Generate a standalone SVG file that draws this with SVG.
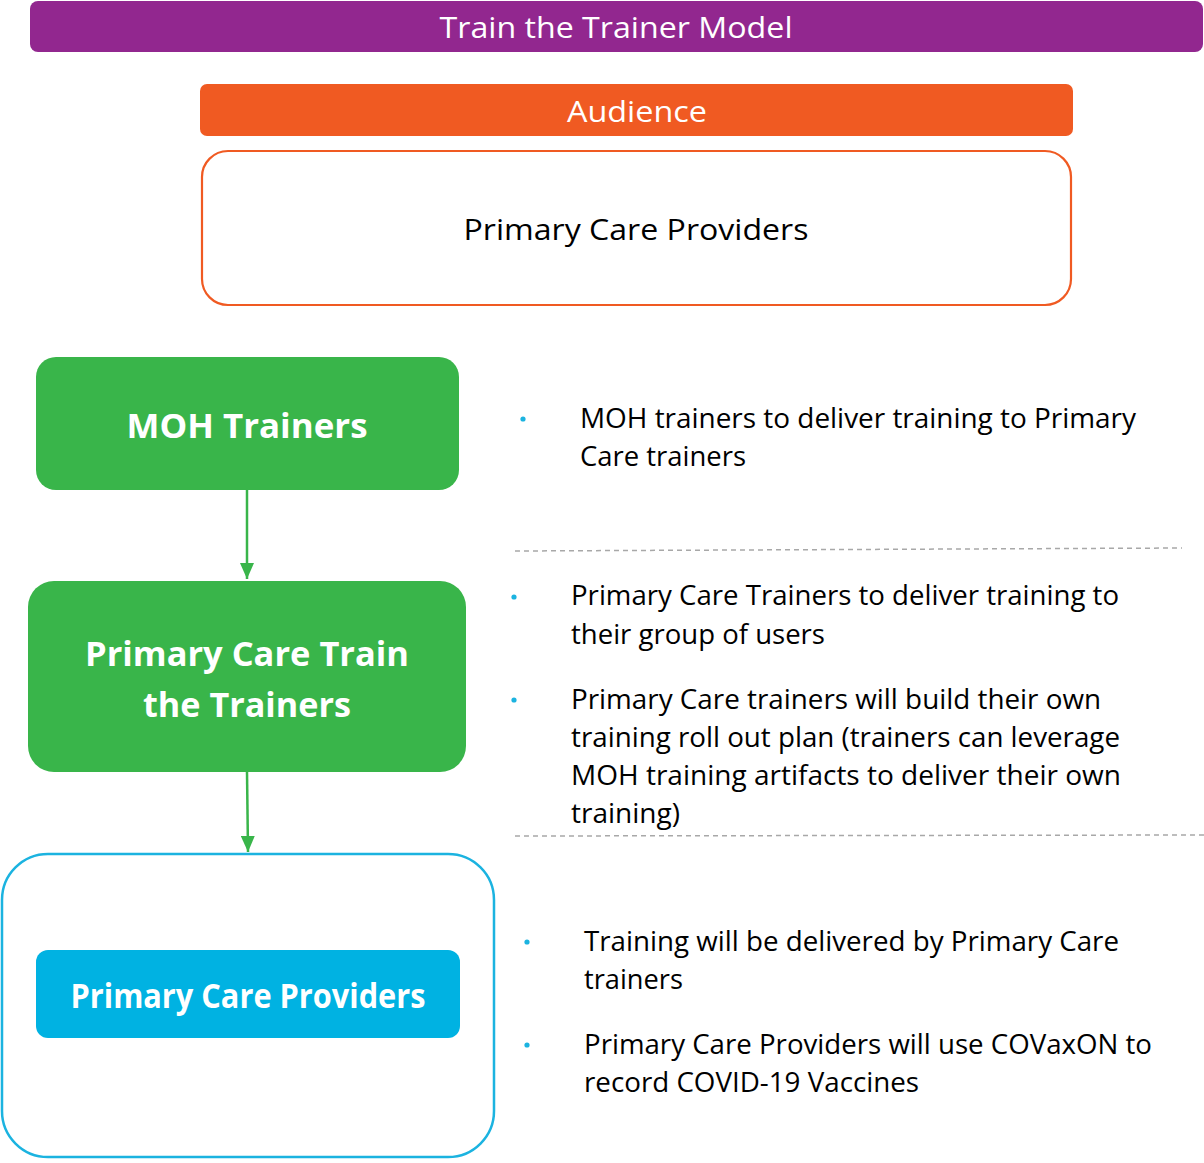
<svg xmlns="http://www.w3.org/2000/svg" width="1204" height="1163" viewBox="0 0 1204 1163">
<defs>
<style>
text{font-family:"Open Sans","Noto Sans","DejaVu Sans",sans-serif;}
.hdr{fill:#fff;font-size:30px;text-anchor:middle;}
.bw{fill:#fff;font-size:34px;font-weight:bold;text-anchor:middle;}
.body{fill:#000;font-size:27px;}
.bul{fill:#1BB3E0;}
.dash{stroke:#A8A8A8;stroke-width:1.5;stroke-dasharray:5 4;fill:none;}
.conn{stroke:#39B54A;stroke-width:2.5;fill:none;}
</style>
<marker id="ah" viewBox="0 0 10 10" refX="10" refY="5" markerWidth="6" markerHeight="6" markerUnits="userSpaceOnUse" orient="auto">
<path d="M0,0 L10,5 L0,10 z" fill="#39B54A"/>
</marker>
<marker id="ah2" viewBox="0 0 16 14" refX="16" refY="7" markerWidth="16" markerHeight="14" markerUnits="userSpaceOnUse" orient="auto">
<path d="M0,0 L16,7 L0,14 z" fill="#39B54A"/>
</marker>
</defs>
<rect width="1204" height="1163" fill="#fff"/>

<g id="title">
<rect x="30" y="1" width="1173" height="51" rx="8" fill="#92278F"/>
<text class="hdr" x="616" y="38" textLength="353" lengthAdjust="spacingAndGlyphs">Train the Trainer Model</text>
</g>

<g id="audience">
<rect x="200" y="84" width="873" height="52" rx="7" fill="#F05A22"/>
<text class="hdr" x="637" y="122" textLength="140" lengthAdjust="spacingAndGlyphs">Audience</text>
</g>

<g id="audience-box">
<rect x="202" y="151" width="869" height="154" rx="26" fill="#fff" stroke="#F05A22" stroke-width="2.2"/>
<text x="636" y="240" font-size="30" text-anchor="middle" fill="#000" textLength="345" lengthAdjust="spacingAndGlyphs">Primary Care Providers</text>
</g>

<g id="moh-trainers">
<rect x="36" y="357" width="423" height="133" rx="20" fill="#39B54A"/>
<text class="bw" x="247" y="438" textLength="241" lengthAdjust="spacingAndGlyphs">MOH Trainers</text>
</g>

<g id="pc-train-trainers">
<rect x="28" y="581" width="438" height="191" rx="26" fill="#39B54A"/>
<text class="bw" x="247" y="666" textLength="324" lengthAdjust="spacingAndGlyphs">Primary Care Train</text>
<text class="bw" x="247" y="717" textLength="208" lengthAdjust="spacingAndGlyphs">the Trainers</text>
</g>

<g id="pc-providers">
<rect x="2" y="854" width="492" height="303" rx="46" fill="#fff" stroke="#1BB3E0" stroke-width="2.5"/>
<rect x="36" y="950" width="424" height="88" rx="12" fill="#00B2E2"/>
<text class="bw" x="248" y="1008" font-size="31" textLength="355" lengthAdjust="spacingAndGlyphs">Primary Care Providers</text>
</g>

<g id="connectors">
<path class="conn" d="M247,490 L247,579" marker-end="url(#ah2)"/>
<path class="conn" d="M247,772 L248,852" marker-end="url(#ah2)"/>
</g>

<g id="notes">
<line class="dash" x1="515" y1="551" x2="1182" y2="548"/>
<line class="dash" x1="515" y1="836" x2="1204" y2="835"/>
<circle class="bul" cx="523" cy="419" r="2.6"/>
<circle class="bul" cx="514" cy="597" r="2.6"/>
<circle class="bul" cx="514" cy="700" r="2.6"/>
<circle class="bul" cx="527" cy="942" r="2.6"/>
<circle class="bul" cx="527" cy="1045" r="2.6"/>
<text class="body" x="580" y="428" textLength="556" lengthAdjust="spacingAndGlyphs">MOH trainers to deliver training to Primary</text>
<text class="body" x="580" y="466" textLength="166" lengthAdjust="spacingAndGlyphs">Care trainers</text>
<text class="body" x="571" y="605" textLength="548" lengthAdjust="spacingAndGlyphs">Primary Care Trainers to deliver training to</text>
<text class="body" x="571" y="644" textLength="254" lengthAdjust="spacingAndGlyphs">their group of users</text>
<text class="body" x="571" y="709" textLength="530" lengthAdjust="spacingAndGlyphs">Primary Care trainers will build their own</text>
<text class="body" x="571" y="747" textLength="549" lengthAdjust="spacingAndGlyphs">training roll out plan (trainers can leverage</text>
<text class="body" x="571" y="785" textLength="550" lengthAdjust="spacingAndGlyphs">MOH training artifacts to deliver their own</text>
<text class="body" x="571" y="823" textLength="109" lengthAdjust="spacingAndGlyphs">training)</text>
<text class="body" x="584" y="951" textLength="535" lengthAdjust="spacingAndGlyphs">Training will be delivered by Primary Care</text>
<text class="body" x="584" y="989" textLength="99" lengthAdjust="spacingAndGlyphs">trainers</text>
<text class="body" x="584" y="1054" textLength="568" lengthAdjust="spacingAndGlyphs">Primary Care Providers will use COVaxON to</text>
<text class="body" x="584" y="1092" textLength="335" lengthAdjust="spacingAndGlyphs">record COVID-19 Vaccines</text>
</g>
</svg>
